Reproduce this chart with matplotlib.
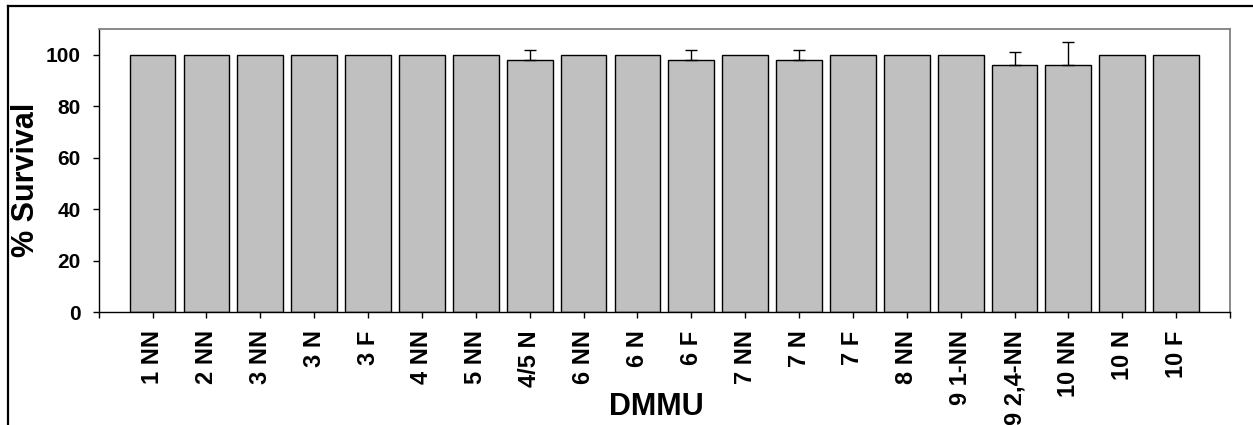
import matplotlib
matplotlib.use("Agg")
import matplotlib.pyplot as plt
from matplotlib.lines import Line2D
import numpy as np

# Survival by DMMU sample
categories = ["1 NN", "2 NN", "3 NN", "3 N", "3 F", "4 NN", "5 NN", "4/5 N",
              "6 NN", "6 N", "6 F", "7 NN", "7 N", "7 F", "8 NN", "9 1-NN",
              "9 2,4-NN", "10 NN", "10 N", "10 F"]
survival = [100, 100, 100, 100, 100, 100, 100, 98,
            100, 100, 98, 100, 98, 100, 100, 100,
            96, 96, 100, 100]
upper_err = [0, 0, 0, 0, 0, 0, 0, 4,
             0, 0, 4, 0, 4, 0, 0, 0,
             5, 9, 0, 0]

plt.rcParams["font.family"] = ["Liberation Sans", "DejaVu Sans"]
plt.rcParams["font.weight"] = "bold"

W, H = 1253, 425
fig = plt.figure(figsize=(W / 100, H / 100), dpi=100)
ax = fig.add_axes([98.7 / W, 1 - 312.3 / H, (1230 - 98.7) / W, (312.3 - 29) / H])

x = np.arange(len(categories))
ax.bar(x, survival, width=0.85, color="#C0C0C0", edgecolor="black",
       linewidth=1.0, zorder=2)
yerr = np.array([np.zeros(len(upper_err)), upper_err])
mask = np.array(upper_err) > 0
ax.errorbar(x[mask], np.array(survival)[mask], yerr=yerr[:, mask], fmt="none",
            ecolor="black", elinewidth=1.0, capsize=4, capthick=1.0, zorder=3)

ax.set_xlim(-1, 20)
ax.set_ylim(0, 110)
ax.set_yticks([0, 20, 40, 60, 80, 100])
ax.set_xticks(x)
ax.set_xticklabels(categories, rotation=90, fontsize=17, fontweight="bold")
ax.set_xticks([-1, 20], minor=True)
ax.tick_params(axis="y", labelsize=15, length=4, width=1, pad=9, direction="out")
ax.tick_params(axis="x", which="both", length=4, width=1, pad=9, direction="out")
for lab in ax.get_yticklabels():
    lab.set_fontweight("bold")

for side in ("left", "bottom"):
    ax.spines[side].set_color("black")
    ax.spines[side].set_linewidth(1.0)
for side in ("top", "right"):
    ax.spines[side].set_color("#808080")
    ax.spines[side].set_linewidth(1.3)

fig.text(26 / W, 1 - 180 / H, "% Survival", rotation=90, fontsize=22,
         fontweight="bold", ha="center", va="center")
fig.text(656 / W, 1 - 407 / H, "DMMU", fontsize=22, fontweight="bold",
         ha="center", va="center")

# Outer frame lines (top and left)
ytop = 1 - 6 / H
xleft = 7.5 / W
fig.add_artist(Line2D([xleft, 1], [ytop, ytop], transform=fig.transFigure,
                      color="black", linewidth=1.6))
fig.add_artist(Line2D([xleft, xleft], [0, ytop], transform=fig.transFigure,
                      color="black", linewidth=1.6))

fig.savefig("out.png", dpi=100)
